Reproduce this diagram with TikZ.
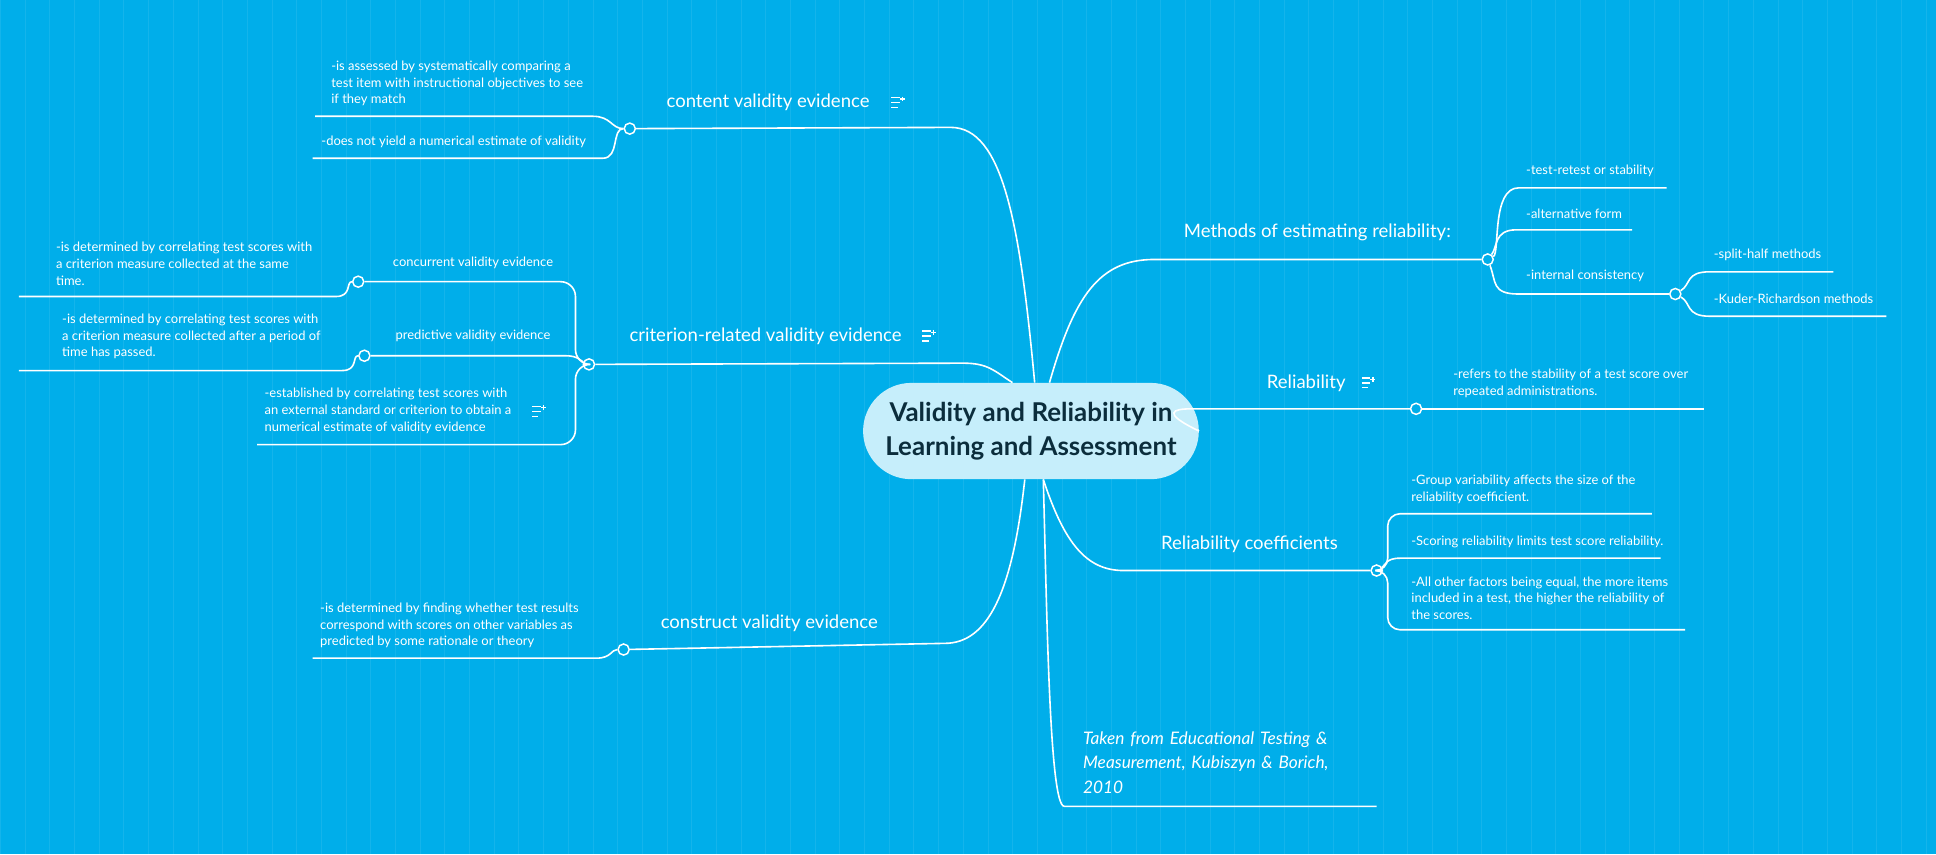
\documentclass[tikz,border=0pt]{standalone}
\usepackage{fontspec}
\setmainfont{Lato}
\usetikzlibrary{positioning}
\definecolor{sky}{HTML}{00AEEA}
\definecolor{hub}{HTML}{C6EEFB}
\definecolor{ink}{HTML}{0B2D3C}
\tikzset{
  link/.style={draw=white, line width=1.3pt},
  topic/.style={text=white, font=\fontsize{15}{18}\selectfont, inner sep=0pt},
  leaf/.style={text=white, font=\fontsize{10.5}{13.5}\selectfont, align=left, inner sep=0pt, anchor=south west},
  knob/.style={circle, draw=white, fill=sky, line width=1.2pt, minimum size=9pt, inner sep=0pt},
}
\newcommand{\noteicon}[1]{%
  \draw[white, line width=1pt] ($#1+(-5,-4)$) -- ++(7,0) ($#1+(-5,0)$) -- ++(7,0) ($#1+(-5,4)$) -- ++(5,0)
    ($#1+(4,-5)$) -- ++(0,4) ($#1+(2,-3)$) -- ++(4,0);}
\usetikzlibrary{calc}
\begin{document}
\begin{tikzpicture}[x=1pt, y=-1pt]
  % Background
  \fill[sky] (0,0) rectangle (1568,692);
  \draw[white, opacity=0.08, step=20] (0,0) grid (1568,692);
  \useasboundingbox (0,0) rectangle (1568,692);

  % Central topic
  \node (hub) at (835,349) [rounded corners=39pt, fill=hub, minimum width=272pt, minimum height=78pt,
    text=ink, align=center, font=\bfseries\fontsize{21}{28}\selectfont]
    {Validity and Reliability in\\Learning and Assessment};

  % Left: content validity
  \node (cv) at (622,83) [topic] {content validity evidence};
  \node (cvk) at (510,104) [knob] {};
  \coordinate (cvend) at (770,103);
  \draw[link] (hub.north) ++(3,0) .. controls (826,180) and (812,103) .. (cvend) -- (cvk);
  \node (cva) at (268,86) [leaf] {-is assessed by systematically comparing a\\test item with instructional objectives to see\\if they match};
  \node (cvb) at (260,120) [leaf] {-does not yield a numerical estimate of validity};
  \draw[link] (cvk) .. controls (495,104) and (495,94) .. (480,94) -- (255,94);
  \draw[link] (cvk) .. controls (495,104) and (502,128) .. (488,128) -- (253,128);
  \noteicon{(727,83)}

  % Left: criterion-related validity
  \node (cr) at (620,272) [topic] {criterion-related validity evidence};
  \node (crk) at (477,295) [knob] {};
  \draw[link] ($(hub.north)+(-15,0)$) .. controls (805,300) and (800,294) .. (780,294) -- (crk);
  \noteicon{(752,272)}
  \node (cc) at (383,213) [topic, font=\fontsize{10.5}{13}\selectfont] {concurrent validity evidence};
  \node (cck) at (290,228) [knob] {};
  \draw[link, rounded corners=12pt] (crk) -| (466,228) -- (cck);
  \node (cca) at (45,231) [leaf] {-is determined by correlating test scores with\\a criterion measure collected at the same\\time.};
  \draw[link] (cck) .. controls (280,228) and (285,240) .. (272,240) -- (15,240);
  \node (pv) at (383,272) [topic, font=\fontsize{10.5}{13}\selectfont] {predictive validity evidence};
  \node (pvk) at (295,288) [knob] {};
  \draw[link] (crk) .. controls (470,292) and (468,288) .. (458,288) -- (pvk);
  \node (pva) at (50,291) [leaf] {-is determined by correlating test scores with\\a criterion measure collected after a period of\\time has passed.};
  \draw[link] (pvk) .. controls (285,288) and (290,300) .. (277,300) -- (15,300);
  \node (ex) at (214,351) [leaf] {-established by correlating test scores with\\an external standard or criterion to obtain a\\numerical estimate of validity evidence};
  \draw[link, rounded corners=12pt] (crk) -| (466,360) -- (208,360);
  \noteicon{(436,333)}

  % Left: construct validity
  \node (cs) at (623,505) [topic] {construct validity evidence};
  \node (csk) at (505,526) [knob] {};
  \draw[link] ($(hub.south)+(-5,0)$) .. controls (820,480) and (800,521) .. (765,521) -- (csk);
  \node (csa) at (259,525) [leaf] {-is determined by finding whether test results\\correspond with scores on other variables as\\predicted by some rationale or theory};
  \draw[link] (csk) .. controls (495,526) and (495,533) .. (483,533) -- (253,533);

  % Right: methods
  \node (me) at (1067,188) [topic] {Methods of estimating reliability:};
  \node (mek) at (1205,210) [knob] {};
  \draw[link] ($(hub.north)+(15,0)$) .. controls (870,240) and (890,210) .. (935,210) -- (mek);
  \node (tr) at (1236,143) [leaf] {-test-retest or stability};
  \node (af) at (1236,177) [leaf] {-alternative form};
  \node (ic) at (1236,228) [leaf] {-internal consistency};
  \node (ick) at (1357,238) [knob] {};
  \draw[link] (mek) .. controls (1215,205) and (1208,152) .. (1230,152) -- (1350,152);
  \draw[link] (mek) .. controls (1213,200) and (1210,186) .. (1228,186) -- (1322,186);
  \draw[link] (mek) .. controls (1212,228) and (1208,238) .. (1230,238) -- (ick);
  \node (sh) at (1388,211) [leaf] {-split-half methods};
  \node (kr) at (1388,246) [leaf] {-Kuder-Richardson methods};
  \draw[link] (ick) .. controls (1370,230) and (1365,220) .. (1385,220) -- (1485,220);
  \draw[link] (ick) .. controls (1370,245) and (1365,256) .. (1385,256) -- (1528,256);

  % Right: reliability
  \node (re) at (1058,310) [topic] {Reliability};
  \node (rek) at (1147,331) [knob] {};
  \draw[link] (hub.east) .. controls (940,334) and (950,331) .. (965,331) -- (rek);
  \node (rea) at (1177,322) [leaf] {-refers to the stability of a test score over\\repeated administrations.};
  \draw[link] (rek) -- (1380,331);
  \noteicon{(1108,310)}

  % Right: coefficients
  \node (rc) at (1012,441) [topic] {Reliability coefficients};
  \node (rck) at (1115,462) [knob] {};
  \draw[link] ($(hub.south)+(10,0)$) .. controls (862,440) and (880,462) .. (910,462) -- (rck);
  \node (rca) at (1143,408) [leaf] {-Group variability affects the size of the\\reliability coefficient.};
  \node (rcb) at (1143,444) [leaf] {-Scoring reliability limits test score reliability.};
  \node (rcc) at (1143,502) [leaf] {-All other factors being equal, the more items\\included in a test, the higher the reliability of\\the scores.};
  \draw[link, rounded corners=10pt] (rck) -| (1124,416) -- (1338,416);
  \draw[link] (rck) .. controls (1122,458) and (1122,452) .. (1134,452) -- (1345,452);
  \draw[link, rounded corners=10pt] (rck) -| (1124,510) -- (1365,510);

  % Right: source
  \node (src) at (877,643) [leaf, text width=240pt, font=\itshape\fontsize{14}{20}\selectfont] {Taken from Educational Testing \&\\Measurement, Kubiszyn \& Borich,\\2010};
  \draw[link] ($(hub.south)+(10,0)$) .. controls (848,500) and (850,653) .. (862,653) -- (1115,653);
\end{tikzpicture}
\end{document}
